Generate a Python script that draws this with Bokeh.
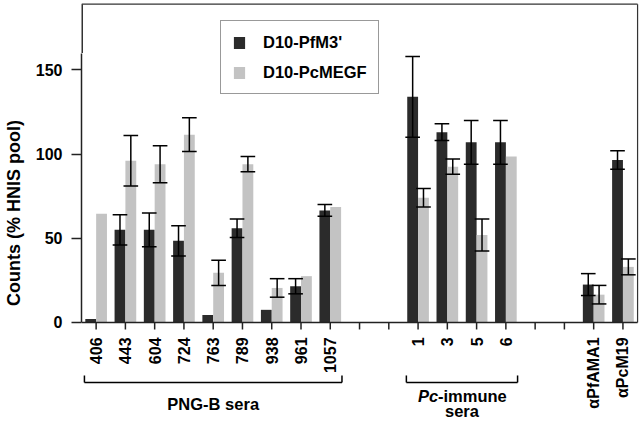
import math
from bokeh.plotting import figure
from bokeh.models import (ColumnDataSource, Range1d, FixedTicker, Legend, LegendItem)
from bokeh.core.properties import value
from bokeh.embed import file_html
from bokeh.resources import INLINE

# ---------------- data ----------------
png_sera = ["406", "443", "604", "724", "763", "789", "938", "961", "1057"]
pc_sera = ["1", "3", "5", "6"]
controls = ["αPfAMA1", "αPcM19"]

# D10-PfM3' (dark) counts (% HNIS pool) and error
pfm3 = [2, 55, 55, 48.5, 4.5, 56, 7.5, 21.5, 66.5, 134, 113, 107, 107, 22.5, 96.5]
pfm3_err = [None, 9, 10, 9, None, 5.5, None, 4.5, 3.5, 24, 5, 13, 13, 6.5, 5.5]
# D10-PcMEGF (light)
pcmegf = [64.5, 96, 94, 111.5, 29.5, 94, 20.5, 27.5, 68.5, 74, 92.5, 52, 98.5, 16.5, 33]
pcmegf_err = [None, 15, 11, 10, 7.5, 4.5, 5.5, None, None, 5.5, 4.5, 9.5, None, 5.5, 4.7]

y_ticks = [0, 50, 100, 150]
group_names = ["PNG-B sera", "Pc-immune sera"]

# ---------------- layout / style ----------------
FONT = "Liberation Sans"
DARK = "#2b2b2b"
LIGHT = "#c3c3c3"
AXIS = "#222222"
GAP = 2
BAR_W = 0.37
OFF = 0.185
CAP = 0.5
Y_END = 190
Y_MIN = -60
Y_TOP = 189
PX = (Y_END - Y_MIN) / 421.0   # data units per pixel (vertical)

groups = [png_sera, pc_sera, controls]
cats, slots, group_slots = [], [], []
pos = 0
for g in groups:
    gs = []
    for c in g:
        cats.append(c)
        slots.append(pos)
        gs.append(pos)
        pos += 1
    group_slots.append(gs)
    pos += GAP
n_slots = pos - GAP
X0, X1 = -0.5, n_slots - 0.5


def below(px):
    return -px * PX


p = figure(width=640, height=423, x_range=Range1d(X0, X1 + 0.1),
           y_range=Range1d(Y_MIN, Y_END), output_backend="svg", toolbar_location=None,
           x_axis_location=None,
           min_border_left=79, min_border_right=0, min_border_top=2, min_border_bottom=0)
p.grid.visible = False
p.outline_line_color = None

src_d = ColumnDataSource(dict(x=[s - OFF for s in slots], top=pfm3))
src_l = ColumnDataSource(dict(x=[s + OFF for s in slots], top=pcmegf))
r_d = p.vbar(x="x", top="top", bottom=0, width=BAR_W, source=src_d,
             fill_color=DARK, line_color=None)
r_l = p.vbar(x="x", top="top", bottom=0, width=BAR_W, source=src_l,
             fill_color=LIGHT, line_color=None)

# error bars
for vals, errs, off in ((pfm3, pfm3_err, -OFF), (pcmegf, pcmegf_err, OFF)):
    xs, lo, hi = [], [], []
    for s, v, e in zip(slots, vals, errs):
        if e is None:
            continue
        xs.append(s + off)
        lo.append(v - e)
        hi.append(v + e)
    es = ColumnDataSource(dict(x=xs, lo=lo, hi=hi,
                               x0=[x - CAP / 2 for x in xs], x1=[x + CAP / 2 for x in xs]))
    p.segment(x0="x", y0="lo", x1="x", y1="hi", source=es, line_color="black", line_width=1.5)
    p.segment(x0="x0", y0="hi", x1="x1", y1="hi", source=es, line_color="black", line_width=1.5)
    p.segment(x0="x0", y0="lo", x1="x1", y1="lo", source=es, line_color="black", line_width=1.5)

# frame borders (top, right, upper-left) and category axis
p.segment(x0=[X0, X1, X0], y0=[Y_TOP, 0, 160], x1=[X1, X1, X0], y1=[Y_TOP, Y_TOP, Y_TOP],
          line_color="#333333", line_width=[1.2, 1.2, 3])
p.segment(x0=[X0], y0=[0], x1=[X1], y1=[0], line_color=AXIS, line_width=1.5)
p.segment(x0=list(range(n_slots)), y0=0, x1=list(range(n_slots)), y1=below(7),
          line_color=AXIS, line_width=1.5)
p.text(x=slots, y=below(15), text=cats, angle=math.pi / 2, text_align="right",
       text_baseline="middle", text_font=value(FONT), text_font_size=value("16px"),
       text_font_style="bold", text_color="black")

# group brackets and labels
bx0, bx1 = [], []
for gs in group_slots[:2]:
    bx0.append(gs[0] - 0.4)
    bx1.append(gs[-1] + 0.4)
yb, yt = below(60), below(53)
p.segment(x0=bx0 + bx0 + bx1, y0=[yb] * 6, x1=bx1 + bx0 + bx1,
          y1=[yb, yb, yt, yt, yt, yt], line_color="black", line_width=1.5)

c0 = sum(group_slots[0]) / len(group_slots[0])
c1 = sum(group_slots[1]) / len(group_slots[1])
kw = dict(text_baseline="middle", text_font=value(FONT), text_font_size=value("16.5px"),
          text_color="black")
p.text(x=[c0], y=[below(82)], text=[group_names[0]], text_align="center",
       text_font_style="bold", **kw)
pc_word, rest = group_names[1].split(" ")
p.text(x=[c1], y=[below(74)], text=[pc_word[:2]], x_offset=-44, text_align="left",
       text_font_style="bold italic", **kw)
p.text(x=[c1], y=[below(74)], text=[pc_word[2:]], x_offset=-24, text_align="left",
       text_font_style="bold", **kw)
p.text(x=[c1], y=[below(89)], text=[rest], text_align="center",
       text_font_style="bold", **kw)

# y axis
ya = p.yaxis[0]
ya.ticker = FixedTicker(ticks=y_ticks)
ya.bounds = (0, 160)
ya.major_tick_out = 10
ya.major_tick_in = 0
ya.minor_tick_out = 0
ya.minor_tick_in = 0
ya.axis_line_width = 1.5
ya.axis_line_color = AXIS
ya.major_tick_line_width = 1.5
ya.major_tick_line_color = AXIS
ya.major_label_standoff = 9
ya.major_label_text_font = FONT
ya.major_label_text_font_size = "16px"
ya.major_label_text_font_style = "bold"
ya.major_label_text_color = "black"
ya.axis_label = "Counts (% HNIS pool)"
ya.axis_label_standoff = 9
ya.axis_label_text_font = FONT
ya.axis_label_text_font_size = "18px"
ya.axis_label_text_font_style = "bold"
ya.axis_label_text_color = "black"

legend = Legend(items=[LegendItem(label="D10-PfM3'", renderers=[r_d]),
                       LegendItem(label="D10-PcMEGF", renderers=[r_l])],
                location=(139, 329), glyph_width=14, glyph_height=15,
                label_standoff=17, label_height=20, spacing=10, padding=11, margin=0,
                label_text_font=FONT, label_text_font_size="16.5px",
                label_text_font_style="bold", label_text_color="black",
                border_line_color="#333333", border_line_width=1.2,
                background_fill_color="white", background_fill_alpha=1.0)
p.add_layout(legend)

open("out.html", "w").write(file_html(p, INLINE))
